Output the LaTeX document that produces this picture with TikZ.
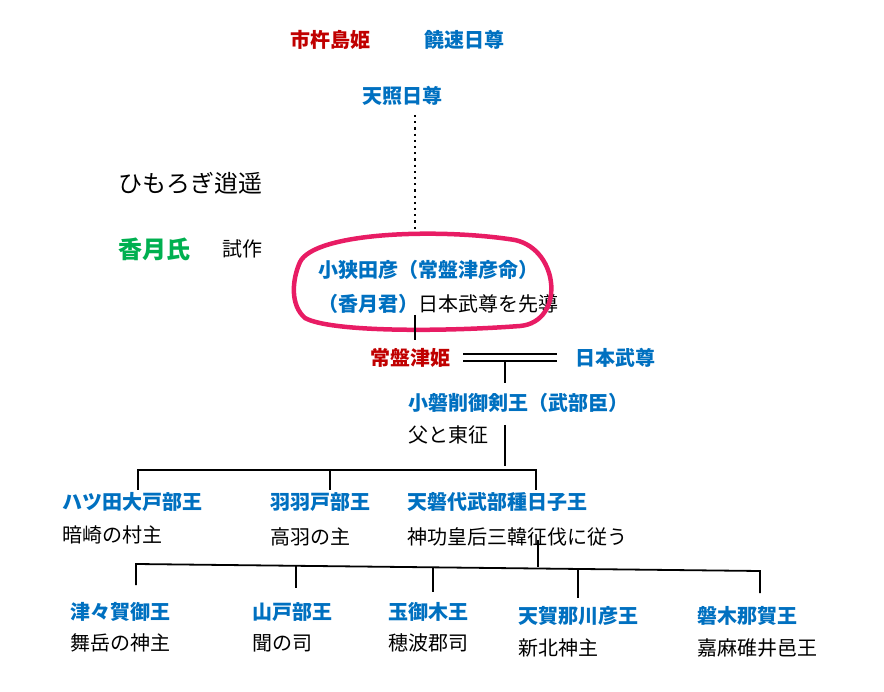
\documentclass[tikz,border=0pt]{standalone}
\usepackage{fontspec}
\setmainfont{Noto Sans CJK JP}
\usetikzlibrary{positioning}
\definecolor{kblue}{RGB}{0,112,192}
\definecolor{kred}{RGB}{192,0,0}
\definecolor{kgreen}{RGB}{0,176,80}
\definecolor{kpink}{RGB}{232,28,100}
\tikzset{
  kname/.style={anchor=west, inner sep=0pt, font=\fontsize{20}{22}\selectfont\bfseries, text=kblue},
  hime/.style={kname, text=kred},
  note/.style={anchor=west, inner sep=0pt, font=\fontsize{20}{22}\selectfont},
  link/.style={line width=1.8pt}
}
\begin{document}
\begin{tikzpicture}[x=1pt,y=-1pt]
    \useasboundingbox (0,0) rectangle (884,692);

    \node [hime] (ichiki) at (290, 40) {市杵島姫};
    \node [kname] (nigi) at (424, 40) {饒速日尊};
    \node [kname] (amateru) at (362, 96) {天照日尊};

    \node [note, font=\fontsize{24}{26}\selectfont] (himo) at (118, 183) {ひもろぎ逍遥};
    \node [kname, text=kgreen, font=\fontsize{24}{26}\selectfont\bfseries] (kazuki) at (118, 249) {香月氏};
    \node [note] (shisaku) at (222, 249) {試作};

    \node [kname] (osada) at (318, 270) {小狭田彦（常盤津彦命）};
    \node [kname] (kazukun) at (318, 304) {（香月君）};
    \node [note, right=0pt of kazukun] (sendo) {日本武尊を先導};

    % pink circle
    \draw [kpink, line width=4.5pt, line cap=round]
        (300, 262) .. controls (315, 232) and (440, 228) .. (515, 240)
        .. controls (560, 250) and (565, 322) .. (520, 326)
        .. controls (440, 332) and (330, 332) .. (305, 318)
        .. controls (290, 305) and (292, 280) .. (300, 262);

    \node [hime] (tokiwa) at (370, 358) {常盤津姫};
    \node [kname] (yamato) at (575, 358) {日本武尊};

    \node [kname] (oiwa) at (408, 403) {小磐削御剣王（武部臣）};
    \node [note] (chichi) at (408, 435) {父と東征};

    \node [kname] (yatsu) at (62, 502) {ハツ田大戸部王};
    \node [note] (kuraki) at (62, 535) {暗崎の村主};
    \node [kname] (hahato) at (270, 502) {羽羽戸部王};
    \node [note] (takaba) at (270, 537) {高羽の主};
    \node [kname] (amaiwa) at (407, 502) {天磐代武部種日子王};
    \node [note] (jingu) at (407, 537) {神功皇后三韓征伐に従う};

    \node [kname] (tsutsu) at (70, 612) {津々賀御王};
    \node [note] (maidake) at (70, 643) {舞岳の神主};
    \node [kname] (yamato2) at (252, 612) {山戸部王};
    \node [note] (kiku) at (252, 643) {聞の司};
    \node [kname] (tamami) at (388, 612) {玉御木王};
    \node [note] (honami) at (388, 643) {穂波郡司};
    \node [kname] (amaga) at (518, 616) {天賀那川彦王};
    \node [note] (shinkita) at (518, 648) {新北神主};
    \node [kname] (iwaki) at (697, 616) {磐木那賀王};
    \node [note] (kama) at (697, 648) {嘉麻碓井邑王};

    % lines
    \draw [line width=2.2pt, dash pattern=on 2.2pt off 4pt] (415, 115) -- (415, 230);
    \draw [link] (415, 315) -- (415, 340);
    \draw [link] (463, 354) -- (557, 354);
    \draw [link] (463, 361) -- (557, 361);
    \draw [link] (505, 361) -- (505, 383);
    \draw [link] (505, 425) -- (505, 466);

    \draw [link] (138, 490) -- (138, 470) -- (536, 470) -- (536, 490);
    \draw [link] (330, 470) -- (330, 490);

    \draw [link] (538, 540) -- (538, 567);
    \draw [link] (136, 585) -- (136, 564) -- (760, 571) -- (760, 593);
    \draw [link] (296, 566) -- (296, 588);
    \draw [link] (433, 567) -- (433, 592);
    \draw [link] (578, 569) -- (578, 598);

\end{tikzpicture}
\end{document}
